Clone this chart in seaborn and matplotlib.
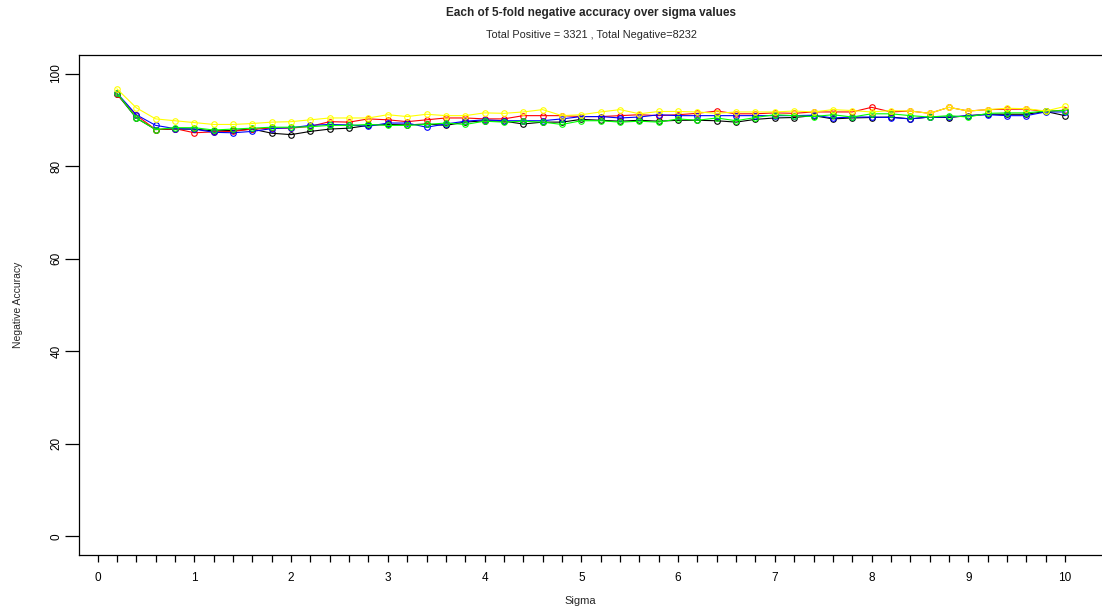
import numpy as np
import pandas as pd
import matplotlib
matplotlib.use("Agg")
import matplotlib.pyplot as plt
import seaborn as sns

# Sigma grid and per-fold negative accuracy (%)
sigma = [round(0.2 * i, 1) for i in range(1, 51)]

fold_red = [95.5, 91.0, 87.9, 88.1, 87.2, 87.4, 87.5, 88.0, 88.2, 88.2,
            88.6, 89.6, 89.5, 90.2, 90.0, 89.6, 90.0, 90.4, 90.4, 90.2,
            90.2, 90.9, 90.9, 90.9, 90.7, 90.7, 90.9, 91.1, 90.9, 91.1,
            91.4, 91.9, 91.3, 91.3, 91.5, 91.4, 91.7, 91.7, 91.7, 92.7,
            91.7, 91.9, 91.4, 92.7, 91.9, 92.2, 92.3, 92.3, 91.8, 92.1]

fold_blue = [95.8, 91.1, 88.8, 88.1, 88.0, 87.3, 87.2, 87.5, 88.1, 88.3,
             88.8, 89.0, 88.9, 88.6, 89.3, 89.3, 88.4, 89.1, 89.7, 90.0,
             89.8, 89.8, 89.8, 90.2, 90.7, 90.7, 90.4, 90.6, 91.1, 90.9,
             90.9, 90.9, 90.9, 90.9, 90.9, 90.9, 91.0, 90.4, 90.6, 90.6,
             90.5, 90.2, 90.6, 90.6, 90.9, 91.1, 90.9, 90.9, 91.7, 91.7]

fold_green = [95.8, 90.4, 87.9, 88.3, 88.3, 87.8, 88.0, 88.2, 88.4, 88.4,
              88.5, 88.8, 88.8, 89.0, 88.8, 88.8, 89.0, 89.3, 89.0, 89.7,
              89.5, 89.7, 89.5, 89.0, 89.8, 89.8, 89.5, 89.7, 89.5, 90.2,
              89.9, 90.4, 89.8, 90.5, 91.1, 90.9, 90.7, 91.1, 90.6, 91.3,
              91.3, 90.9, 90.6, 90.9, 90.6, 91.4, 91.5, 91.5, 91.9, 92.0]

fold_black = [95.6, 90.4, 87.9, 88.0, 88.0, 87.6, 87.7, 88.0, 87.1, 86.8,
              87.5, 88.0, 88.2, 88.8, 89.0, 88.9, 89.1, 88.8, 89.5, 89.8,
              89.7, 89.1, 89.5, 89.5, 90.1, 89.9, 89.7, 89.9, 89.7, 89.9,
              89.9, 89.8, 89.5, 90.1, 90.4, 90.5, 90.9, 90.2, 90.4, 90.5,
              90.6, 90.2, 90.6, 90.5, 90.9, 91.2, 91.2, 91.2, 91.8, 90.9]

fold_yellow = [96.7, 92.6, 90.2, 89.8, 89.4, 89.0, 89.0, 89.2, 89.5, 89.6,
               90.0, 90.4, 90.4, 90.4, 91.1, 90.7, 91.2, 90.9, 90.9, 91.5,
               91.4, 91.7, 92.2, 90.9, 91.1, 91.7, 92.2, 91.3, 91.8, 91.8,
               91.7, 91.4, 91.7, 91.7, 91.7, 91.9, 91.7, 92.2, 92.0, 91.7,
               92.0, 91.9, 91.4, 92.7, 91.9, 92.2, 92.5, 92.4, 91.9, 92.9]

folds = [("black", fold_black), ("red", fold_red), ("blue", fold_blue),
         ("#00FF00", fold_green), ("#FFFF00", fold_yellow)]

x_ticks = [round(0.2 * i, 1) for i in range(0, 51)]
x_tick_labels = [str(int(t)) if abs(t - round(t)) < 1e-9 else "" for t in x_ticks]
y_ticks = [0, 20, 40, 60, 80, 100]

title = "Each of 5-fold negative accuracy over sigma values"
subtitle = "Total Positive = 3321 , Total Negative=8232"

sns.set_style("white")
plt.rcParams["font.family"] = ["Liberation Sans", "DejaVu Sans"]

W, H = 1102, 613
fig = plt.figure(figsize=(W / 100, H / 100), dpi=100)
left, right, top, bottom = 79, 1103, 55, 555
ax = fig.add_axes([left / W, 1 - bottom / H, (right - left) / W, (bottom - top) / H])

for color, vals in folds:
    df = pd.DataFrame({"Sigma": sigma, "acc": vals})
    sns.lineplot(data=df, x="Sigma", y="acc", ax=ax, color=color,
                 linewidth=0.8, marker="o", markersize=4.0,
                 markerfacecolor="none", markeredgecolor=color,
                 markeredgewidth=0.8, legend=False)

ax.set_xlim(-0.192, 10.392)
ax.set_ylim(-4, 104)
ax.set_xticks(x_ticks)
ax.set_xticklabels(x_tick_labels)
ax.set_yticks(y_ticks)
ax.set_yticklabels([str(v) for v in y_ticks], rotation=90, va="center")

ax.tick_params(axis="x", direction="out", length=5, width=0.9, pad=7,
               labelsize=8.5, colors="black", bottom=True)
ax.tick_params(axis="y", direction="out", length=10, width=0.9, pad=2,
               labelsize=8.5, colors="black", left=True)

for side in ["left", "bottom", "top"]:
    ax.spines[side].set_visible(True)
    ax.spines[side].set_color("black")
    ax.spines[side].set_linewidth(0.9)
ax.spines["right"].set_visible(False)

ax.set_xlabel("Sigma", fontsize=8)
ax.set_ylabel("Negative Accuracy", fontsize=7.5)
ax.xaxis.set_label_coords((580 - left) / (right - left), (bottom - 601) / (bottom - top))
ax.xaxis.label.set_va("center")
ax.yaxis.set_label_coords((18 - left) / (right - left), 0.5)
ax.yaxis.label.set_va("center")

fig.text(591 / W, 1 - 13 / H, title, ha="center", va="center",
         fontsize=8.5, fontweight="bold")
fig.text(591 / W, 1 - 35 / H, subtitle, ha="center", va="center", fontsize=7.8)

fig.savefig("out.png", dpi=100, facecolor="white")
